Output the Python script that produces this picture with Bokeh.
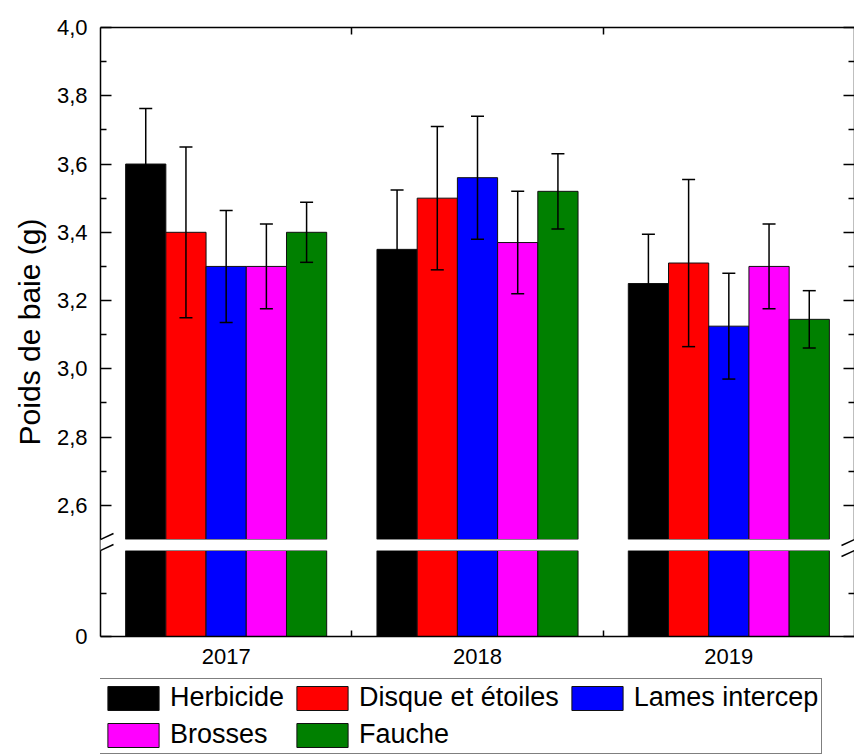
from bokeh.plotting import figure
from bokeh.layouts import column
from bokeh.models import (Range1d, LinearAxis, FixedTicker, Whisker, TeeHead,
                          ColumnDataSource, BoxAnnotation, Arrow, Legend, LegendItem)
from bokeh.embed import file_html
from bokeh.resources import INLINE

# ---------------- data ----------------
years = ["2017", "2018", "2019"]
treatments = ["Herbicide", "Disque et étoiles", "Lames intercep", "Brosses", "Fauche"]
colors = ["#000000", "#ff0000", "#0000ff", "#ff00ff", "#008000"]

herbicide = [3.60, 3.35, 3.25]
herbicide_err = [0.163, 0.174, 0.144]
disque = [3.40, 3.50, 3.31]
disque_err = [0.250, 0.210, 0.245]
lames = [3.30, 3.56, 3.125]
lames_err = [0.164, 0.180, 0.155]
brosses = [3.30, 3.37, 3.30]
brosses_err = [0.124, 0.150, 0.124]
fauche = [3.40, 3.52, 3.145]
fauche_err = [0.088, 0.110, 0.084]

values = [herbicide, disque, lames, brosses, fauche]
errors = [herbicide_err, disque_err, lames_err, brosses_err, fauche_err]

upper_ticks = [2.6, 2.8, 3.0, 3.2, 3.4, 3.6, 3.8, 4.0]
upper_minor = [2.7, 2.9, 3.1, 3.3, 3.5, 3.7, 3.9]
lower_ticks = [0.0]
lower_minor = [0.1]
upper_start, upper_end = 2.5, 4.0   # upper segment of the broken axis
lower_start, lower_end = 0.0, 0.2   # lower segment of the broken axis

# ---------------- geometry of the broken axis ----------------
FRAME_H = 609
FRAME_W = 754
UPPER_PX = 512
LOWER_PX = 86
GAP_PX = FRAME_H - UPPER_PX - LOWER_PX
u_scale = UPPER_PX / (upper_end - upper_start)      # px per unit (upper)
l_scale = LOWER_PX / (lower_end - lower_start)      # px per unit (lower)
y0 = upper_start - (LOWER_PX + GAP_PX) / u_scale    # upper-range value at frame bottom
lower_range_end = lower_start + FRAME_H / l_scale


def low_to_up(v):
    return y0 + (v - lower_start) * l_scale / u_scale


FONT = "Liberation Sans"
BAR_W = 0.16
EDGE = "#111111"

p = figure(width=854, height=676, output_backend="svg", toolbar_location=None,
           x_range=Range1d(0.5, 3.5), y_range=Range1d(y0, upper_end),
           x_axis_location=None, y_axis_location=None,
           min_border_left=100, min_border_top=27, min_border_bottom=40,
           min_border_right=0)
p.extra_y_ranges = {"lower": Range1d(lower_start, lower_range_end)}
p.grid.visible = False
p.outline_line_color = None
p.background_fill_color = "white"
p.border_fill_color = "white"

sources = []
for j, (name, col, vals, errs) in enumerate(zip(treatments, colors, values, errors)):
    xs = [i + 1 + (j - 2) * BAR_W for i in range(len(years))]
    src = ColumnDataSource(dict(x=xs, top=vals,
                                upper=[v + e for v, e in zip(vals, errs)],
                                lower=[v - e for v, e in zip(vals, errs)]))
    sources.append(src)
    p.vbar(x="x", top="top", bottom=upper_start, width=BAR_W, source=src,
           fill_color=col, line_color=EDGE, line_width=1)
    p.vbar(x="x", top=lower_end, bottom=lower_start, width=BAR_W, source=src,
           fill_color=col, line_color=EDGE, line_width=1, y_range_name="lower")
    w = Whisker(base="x", upper="upper", lower="lower", source=src,
                line_color="black", line_width=1.5, level="annotation",
                upper_head=TeeHead(size=13, line_color="black", line_width=1.5),
                lower_head=TeeHead(size=13, line_color="black", line_width=1.5))
    p.add_layout(w)

# ---------------- axes ----------------
def fmt(v):
    return f"{v:.1f}".replace(".", ",")

y_major = [low_to_up(t) for t in lower_ticks] + upper_ticks
y_minor = [low_to_up(t) for t in lower_minor] + upper_minor
y_labels = {low_to_up(t): f"{t:g}" for t in lower_ticks}
y_labels.update({t: fmt(t) for t in upper_ticks})

for side in ("left", "right"):
    ax = LinearAxis(ticker=FixedTicker(ticks=y_major, minor_ticks=y_minor),
                    major_tick_in=11, major_tick_out=0,
                    minor_tick_in=6, minor_tick_out=0,
                    axis_line_width=1.5, major_tick_line_width=1.5,
                    minor_tick_line_width=1.5)
    if side == "left":
        ax.major_label_overrides = y_labels
        ax.major_label_text_font = FONT
        ax.major_label_text_font_size = "22px"
        ax.major_label_text_color = "black"
        ax.major_label_standoff = 13
        ax.axis_label = "Poids de baie (g)"
        ax.axis_label_text_font = FONT
        ax.axis_label_text_font_size = "30px"
        ax.axis_label_text_font_style = "normal"
        ax.axis_label_text_color = "black"
        ax.axis_label_standoff = 8
    else:
        ax.major_label_overrides = {t: "" for t in y_major}
        ax.major_label_standoff = 0
    p.add_layout(ax, side)

bottom = LinearAxis(ticker=FixedTicker(ticks=[1, 2, 3], minor_ticks=[1.5, 2.5]),
                    major_label_overrides={i + 1: y for i, y in enumerate(years)},
                    major_tick_in=0, major_tick_out=0,
                    minor_tick_in=6, minor_tick_out=0,
                    axis_line_width=1.5, minor_tick_line_width=1.5,
                    major_label_text_font=FONT, major_label_text_font_size="22px",
                    major_label_text_color="black",
                    major_label_standoff=12)
p.add_layout(bottom, "below")

top = LinearAxis(ticker=FixedTicker(ticks=[1.5, 2.5]),
                 major_label_overrides={1.5: "", 2.5: ""},
                 major_tick_in=7, major_tick_out=0, axis_line_width=1.5,
                 major_tick_line_width=1.5, major_label_standoff=0)
p.add_layout(top, "above")

# ---------------- axis break ----------------
gap = BoxAnnotation(top=upper_start, bottom=low_to_up(lower_end), left=0.46, right=3.6,
                    fill_color="white", fill_alpha=1, line_color=None, level="annotation")
p.add_layout(gap)
dx = 13 / (FRAME_W / 3.0)
for xa in (0.5, 3.5):
    p.add_layout(Arrow(x_start=xa - dx, y_start=upper_start - 6 / u_scale,
                       x_end=xa + dx, y_end=upper_start + 6 / u_scale,
                       start=None, end=None, line_width=1.5, line_color="black"))
    p.add_layout(Arrow(x_start=xa - dx, y_start=lower_end - 6 / l_scale,
                       x_end=xa + dx, y_end=lower_end + 6 / l_scale,
                       start=None, end=None, line_width=1.5, line_color="black",
                       y_range_name="lower"))

# ---------------- legend (own strip under the plot) ----------------
lf = figure(width=854, height=78, output_backend="svg", toolbar_location=None,
            x_range=Range1d(0.5, 3.5), y_range=Range1d(y0, upper_end),
            x_axis_location=None, y_axis_location=None,
            min_border=0, outline_line_color=None)
lf.grid.visible = False
items = []
for name, col, src in zip(treatments, colors, sources):
    r = lf.vbar(x="x", top="top", bottom=upper_start, width=BAR_W, source=src,
                fill_color=col, line_color=EDGE, line_width=1, visible=False)
    items.append(LegendItem(label=name, renderers=[r]))

legend = Legend(items=items, orientation="horizontal", ncols=3,
                location=(-3, 0), margin=0,
                label_text_font=FONT, label_text_font_size="27px",
                label_text_color="black",
                glyph_width=64, glyph_height=30, label_standoff=5,
                spacing=6, padding=3, label_height=30,
                inactive_fill_alpha=0,
                border_line_color="black", border_line_width=1.5,
                background_fill_color="white", background_fill_alpha=1)
lf.add_layout(legend, "center")

layout = column(p, lf, spacing=0)

with open("out.html", "w") as f:
    f.write(file_html(layout, INLINE))
